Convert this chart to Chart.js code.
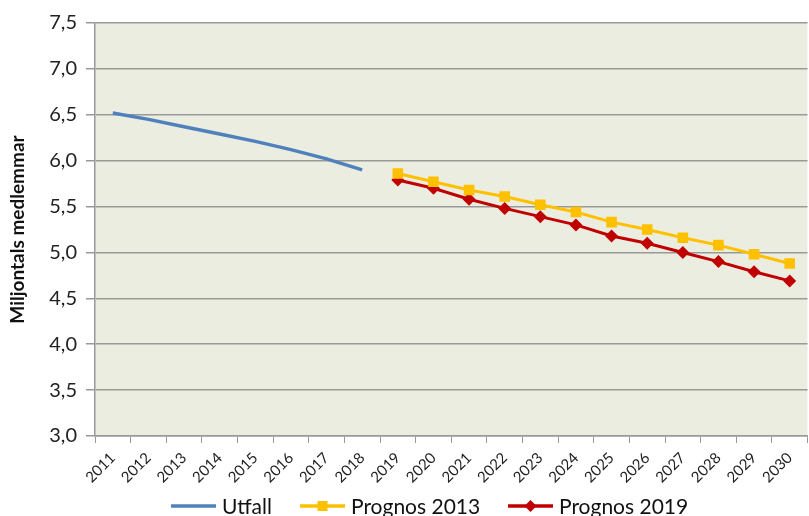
<!DOCTYPE html>
<html>
<head>
<meta charset="utf-8">
<script src="https://cdn.jsdelivr.net/npm/chart.js@4"></script>
<style>
  html, body { margin: 0; padding: 0; background: #fff; overflow: hidden; }
  #wrap { position: relative; width: 815px; height: 516px; }
</style>
</head>
<body>
<div id="wrap"><canvas id="medlemmar"></canvas></div>
<script>
var years = ["2011","2012","2013","2014","2015","2016","2017","2018","2019","2020",
             "2021","2022","2023","2024","2025","2026","2027","2028","2029","2030"];
var utfall = [6.52, 6.45, 6.37, 6.29, 6.21, 6.12, 6.02, 5.90,
              null, null, null, null, null, null, null, null, null, null, null, null];
var prognos2013 = [null, null, null, null, null, null, null, null,
                   5.86, 5.77, 5.68, 5.61, 5.52, 5.44, 5.33, 5.25, 5.16, 5.08, 4.98, 4.88];
var prognos2019 = [null, null, null, null, null, null, null, null,
                   5.79, 5.70, 5.58, 5.48, 5.39, 5.30, 5.18, 5.10, 5.00, 4.90, 4.79, 4.69];

var fontFam = "Lato, 'Open Sans', sans-serif";
var gridColor = '#999999';

/* bakgrund i plotytan */
var plotBg = {
    id: 'plotBg',
    beforeDraw: function(chart) {
        var a = chart.chartArea, ctx = chart.ctx;
        ctx.save();
        ctx.fillStyle = '#EBEDE0';
        ctx.fillRect(a.left, a.top, a.right - a.left, a.bottom - a.top);
        ctx.restore();
    }
};

/* legend: linje med markör + text */
var lineLegend = {
    id: 'lineLegend',
    afterDraw: function(chart) {
        var ctx = chart.ctx;
        var xs = [171, 300, 508];
        var y = 506;
        ctx.save();
        chart.data.datasets.forEach(function(ds, i) {
            var x = xs[i];
            ctx.strokeStyle = ds.borderColor;
            ctx.lineWidth = 3.5;
            ctx.beginPath();
            ctx.moveTo(x, y);
            ctx.lineTo(x + 45, y);
            ctx.stroke();
            if (ds.pointStyle === 'rect') {
                ctx.fillStyle = ds.backgroundColor;
                ctx.fillRect(x + 22.5 - 5, y - 5, 10, 10);
            } else if (ds.pointStyle === 'rectRot') {
                ctx.fillStyle = ds.backgroundColor;
                ctx.beginPath();
                ctx.moveTo(x + 22.5, y - 6);
                ctx.lineTo(x + 28.5, y);
                ctx.lineTo(x + 22.5, y + 6);
                ctx.lineTo(x + 16.5, y);
                ctx.closePath();
                ctx.fill();
            }
            ctx.fillStyle = '#111';
            ctx.font = '21px ' + fontFam;
            ctx.textBaseline = 'middle';
            ctx.fillText(ds.label, x + 51, y + 1);
        });
        ctx.restore();
    }
};

var ctx = document.getElementById("medlemmar");
var chart = new Chart(ctx, {
    type: 'line',
    data: {
        labels: years,
        datasets: [{
            label: 'Utfall',
            data: utfall,
            borderColor: '#4F81BD',
            backgroundColor: '#4F81BD',
            borderWidth: 3.5,
            pointRadius: 0,
            pointStyle: false,
            tension: 0
        }, {
            label: 'Prognos 2013',
            data: prognos2013,
            borderColor: '#FFC000',
            backgroundColor: '#FFC000',
            borderWidth: 3,
            pointStyle: 'rect',
            pointRadius: 7.5,
            pointBorderWidth: 0,
            tension: 0
        }, {
            label: 'Prognos 2019',
            data: prognos2019,
            borderColor: '#C00000',
            backgroundColor: '#C00000',
            borderWidth: 3,
            pointStyle: 'rectRot',
            pointRadius: 6.5,
            pointBorderWidth: 0,
            tension: 0
        }]
    },
    options: {
        responsive: true,
        maintainAspectRatio: false,
        animation: false,
        events: [],
        layout: { padding: { top: 23, right: 1, bottom: 0, left: 0 } },
        plugins: {
            legend: { display: false },
            tooltip: { enabled: false }
        },
        scales: {
            x: {
                offset: true,
                grid: {
                    offset: true,
                    drawOnChartArea: false,
                    drawTicks: true,
                    tickLength: 7,
                    color: gridColor
                },
                border: { color: gridColor, width: 1.5 },
                ticks: {
                    minRotation: 45,
                    maxRotation: 45,
                    autoSkip: false,
                    padding: 6,
                    color: '#222',
                    font: { family: fontFam, size: 15 }
                },
                afterFit: function(scale) { scale.height = 80; }
            },
            y: {
                min: 3.0,
                max: 7.5,
                grid: {
                    color: gridColor,
                    lineWidth: 1.5,
                    tickLength: 9
                },
                border: { color: gridColor, width: 1.5 },
                ticks: {
                    stepSize: 0.5,
                    padding: 9,
                    color: '#222',
                    font: { family: fontFam, size: 20 },
                    callback: function(v) { return v.toFixed(1).replace('.', ','); }
                },
                title: {
                    display: true,
                    text: 'Miljontals medlemmar',
                    color: '#111',
                    font: { family: fontFam, size: 19, weight: 'bold' },
                    padding: { top: 6, bottom: 0 }
                },
                afterFit: function(scale) { scale.width = 95; }
            }
        }
    },
    plugins: [plotBg, lineLegend]
});
</script>
</body>
</html>
